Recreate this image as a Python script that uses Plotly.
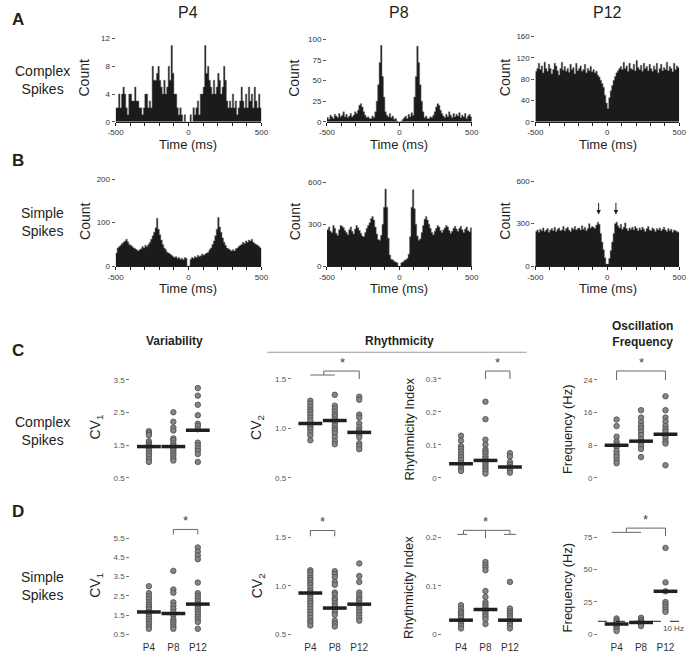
import plotly.graph_objects as go

W, H = 695, 661
FONT = "Arial, Liberation Sans, Helvetica, sans-serif"
INK = "#231f20"

# ---------------- DATA ----------------
bin_edges = list(range(-500, 501, 10))  # 10 ms bins, edges -500 .. 500

cs_p4 = [2,2,4,2,4,5,4,2,1,4,
         4,3,3,5,3,3,2,2,1,2,
         4,4,2,3,2,8,6,6,7,8,
         6,5,4,6,4,5,8,6,11,7,
         4,4,2,1,2,1,0,1,0,0,
         0,1,0,2,1,2,3,1,4,4,
         5,11,7,8,6,5,4,6,4,5,
         7,6,4,5,8,6,3,2,3,2,
         4,2,3,1,2,3,5,3,2,4,
         2,5,3,4,2,5,3,2,4,2]
cs_p8 = [5,3,8,6,4,9,7,5,10,6,
         8,12,6,9,5,7,10,6,8,12,
         10,14,20,22,18,12,8,5,6,4,
         4,7,5,12,25,45,72,93,55,30,
         12,8,6,10,5,7,3,4,1,0,
         0,1,3,5,7,4,9,6,11,8,
         30,55,92,72,45,25,12,5,7,4,
         4,6,5,8,12,18,22,20,14,10,
         7,5,9,6,12,8,5,10,6,9,
         7,11,5,8,6,10,4,7,9,6]
cs_p12 = [95,100,110,98,105,92,112,100,95,108,
          100,90,98,110,105,96,88,100,112,97,
          104,95,100,93,108,98,102,90,110,96,
          100,105,95,98,108,92,100,96,104,94,
          98,92,95,88,84,78,72,65,50,35,
          25,45,58,68,78,85,92,96,100,104,
          98,112,100,105,95,110,100,98,108,96,
          115,102,98,106,95,110,100,104,96,108,
          100,95,105,98,110,92,100,108,96,102,
          98,112,96,104,100,94,110,98,105,102]
ss_p4 = [30,42,45,48,52,55,58,62,56,50,
         48,45,42,40,38,35,38,40,45,42,
         48,45,50,55,62,70,78,88,110,85,
         72,60,50,42,38,32,30,28,25,22,
         20,22,18,20,16,18,15,20,18,0,
         0,16,20,18,22,20,25,22,24,28,
         25,28,30,32,38,42,50,58,70,85,
         112,90,78,65,55,48,42,40,38,35,
         38,35,40,42,45,48,50,55,52,58,
         55,60,58,62,55,52,50,48,45,42]
ss_p8 = [260,280,250,240,290,270,235,220,260,290,
         285,275,255,240,225,260,280,250,230,265,
         290,275,255,235,215,210,240,270,290,310,
         340,355,330,280,230,190,185,220,300,420,
         550,420,200,80,50,45,35,30,25,0,
         0,25,30,40,45,55,85,210,420,545,
         410,300,215,185,195,240,290,335,355,330,
         300,270,240,225,250,270,290,280,255,240,
         260,275,290,280,255,235,250,270,285,265,
         250,270,285,260,240,265,280,255,245,275]
ss_p12 = [245,255,240,260,250,270,245,255,265,240,
          255,265,250,275,245,260,270,250,255,280,
          250,265,275,255,245,270,260,280,255,265,
          270,255,285,260,275,250,265,300,270,280,
          275,265,290,310,295,230,170,115,60,15,
          15,55,110,170,230,300,310,285,270,295,
          260,275,305,265,250,270,260,275,255,280,
          265,250,270,255,275,260,245,265,280,255,
          250,270,260,245,265,255,270,250,260,275,
          255,245,265,250,260,240,255,250,245,240]

groups = ["P4", "P8", "P12"]
group_pos = [1, 2, 3]

cs_cv1_p4 = [1.93,1.87,1.81,1.62,1.55,1.50,1.45,1.40,1.33,1.25,1.17,1.07,0.99]
cs_cv1_p8 = [2.51,2.22,2.04,1.95,1.71,1.65,1.56,1.48,1.40,1.33,1.25,1.18,1.10,1.03]
cs_cv1_p12 = [3.25,3.02,2.74,2.42,2.16,2.09,1.99,1.58,1.50,1.41,1.33,1.23,0.99]
cs_cv1_mean = [1.46,1.46,1.96]

cs_cv2_p4 = [1.28,1.25,1.22,1.19,1.17,1.14,1.11,1.08,1.03,1.01,0.99,0.96,0.93,0.88]
cs_cv2_p8 = [1.34,1.23,1.20,1.17,1.14,1.12,1.09,1.06,1.03,1.00,0.98,0.95,0.91,0.87,0.84]
cs_cv2_p12 = [1.32,1.29,1.14,1.11,1.05,1.01,0.98,0.96,0.94,0.91,0.85,0.82,0.79]
cs_cv2_mean = [1.05,1.08,0.96]

cs_ri_p4 = [0.128,0.113,0.096,0.088,0.080,0.071,0.063,0.055,0.046,0.038,0.028,0.021]
cs_ri_p8 = [0.231,0.178,0.116,0.101,0.086,0.080,0.073,0.065,0.058,0.050,0.043,0.035,0.028,0.021,0.013]
cs_ri_p12 = [0.075,0.065,0.048,0.040,0.033,0.025,0.016]
cs_ri_mean = [0.043,0.053,0.033]

cs_freq_p4 = [14.3,12.7,10.1,8.9,8.2,7.6,6.6,5.8,5.1,4.3,3.6]
cs_freq_p8 = [16.6,14.8,13.7,12.7,12.1,11.3,10.5,9.5,8.8,8.0,7.1,5.1]
cs_freq_p12 = [20.0,16.6,14.8,13.8,12.7,11.9,11.3,10.3,9.7,8.9,8.4,3.1]
cs_freq_mean = [8.0,9.0,10.7]

ss_cv1_p4 = [3.00,2.64,2.47,2.33,2.16,2.03,1.91,1.79,1.66,1.53,1.41,1.29,1.16,1.04,0.90,0.78]
ss_cv1_p8 = [3.80,2.83,2.66,2.16,1.99,1.83,1.66,1.50,1.27,1.16,1.04,0.90,0.78]
ss_cv1_p12 = [5.02,4.81,4.60,4.41,3.19,2.64,2.50,2.37,2.23,2.07,1.95,1.82,1.68,1.55,1.41,1.27,1.14,0.78]
ss_cv1_mean = [1.66,1.58,2.07]

ss_cv2_p4 = [1.16,1.14,1.11,1.08,1.06,1.03,1.01,0.98,0.95,0.93,0.90,0.87,0.84,0.82,0.79,0.76,0.73,0.70,0.67,0.64,0.62,0.59]
ss_cv2_p8 = [1.15,1.12,1.09,1.04,1.01,0.93,0.91,0.87,0.85,0.82,0.79,0.76,0.73,0.70,0.64,0.61,0.58]
ss_cv2_p12 = [1.23,1.10,1.04,0.93,0.90,0.87,0.85,0.82,0.79,0.76,0.73,0.70,0.67,0.64]
ss_cv2_mean = [0.925,0.77,0.81]

ss_ri_p4 = [0.060,0.053,0.047,0.043,0.038,0.034,0.028,0.023,0.018,0.012]
ss_ri_p8 = [0.149,0.143,0.138,0.132,0.089,0.077,0.066,0.061,0.056,0.051,0.046,0.041,0.036,0.031,0.021]
ss_ri_p12 = [0.108,0.053,0.047,0.043,0.038,0.033,0.027,0.022,0.018,0.012]
ss_ri_mean = [0.029,0.051,0.029]

ss_freq_p4 = [12.2,10.4,8.9,7.1,5.8,4.1,2.5]
ss_freq_p8 = [12.7,10.9,9.6,7.9,6.3]
ss_freq_p12 = [66.8,40.1,33.2,24.9,23.1,21.1,19.0,17.3]
ss_freq_mean = [7.9,9.1,33.2]

# ---------------- HELPERS ----------------
def ax_x(v_lo, p_lo, v_hi, p_hi, p_left, p_right):
    s = (p_hi - p_lo) / (v_hi - v_lo)
    return [p_left / W, p_right / W], [v_lo - (p_lo - p_left) / s, v_lo + (p_right - p_lo) / s]

def ax_y(v_lo, p_lo, v_hi, p_hi, p_top, p_bot):
    s = (p_lo - p_hi) / (v_hi - v_lo)
    return [1 - p_bot / H, 1 - p_top / H], [v_lo - (p_bot - p_lo) / s, v_lo + (p_lo - p_top) / s]

fig = go.Figure()
layout = dict(width=W, height=H, margin=dict(l=0, r=0, t=0, b=0),
              paper_bgcolor="white", plot_bgcolor="rgba(0,0,0,0)",
              showlegend=False, font=dict(family=FONT, color=INK))
annotations = []
shapes = []

def ids(i):
    return ("x" if i == 1 else f"x{i}"), ("y" if i == 1 else f"y{i}")

def set_axes(i, xd, xr, yd, yr, xkw, ykw):
    xid, yid = ids(i)
    layout["xaxis" if i == 1 else f"xaxis{i}"] = dict(domain=xd, range=xr, anchor=yid,
        showgrid=False, zeroline=False, fixedrange=True, **xkw)
    layout["yaxis" if i == 1 else f"yaxis{i}"] = dict(domain=yd, range=yr, anchor=xid,
        showgrid=False, zeroline=False, fixedrange=True, **ykw)

def txt(x, y, s, size, angle=0, color=INK, xanchor="center", yanchor="middle"):
    annotations.append(dict(x=x / W, y=1 - y / H, xref="paper", yref="paper", text=s,
                            showarrow=False, textangle=angle, xanchor=xanchor, yanchor=yanchor,
                            font=dict(size=size, family=FONT, color=color)))

# ---------------- HISTOGRAMS ----------------
hist_specs = [
    (1, cs_p4, 110, 259, 121, 12, 37, 34, [0, 4, 8, 12]),
    (2, cs_p8, 326, 474, 121, 100, 38, 34, [0, 25, 50, 75, 100]),
    (3, cs_p12, 539, 686, 121, 160, 35, 33, [0, 40, 80, 120, 160]),
    (4, ss_p4, 110, 259, 267, 200, 179, 176, [0, 100, 200]),
    (5, ss_p8, 326, 474, 267, 600, 182, 176, [0, 300, 600]),
    (6, ss_p12, 539, 686, 267, 600, 181, 176, [0, 300, 600]),
]
xt_vals = list(range(-500, 501, 100))
xt_text = ["-500" if v == -500 else "0" if v == 0 else "500" if v == 500 else "" for v in xt_vals]
for (i, data, xl, xr_, y0, yv, yp, ptop, yt) in hist_specs:
    xd, xr = ax_x(-500, xl, 500, xr_, xl, xr_)
    yd, yr = ax_y(0, y0, yv, yp, ptop, y0)
    xid, yid = ids(i)
    # step outline: each bin value held from its left edge; final edge closes the last bin
    fig.add_trace(go.Scatter(x=bin_edges, y=data + data[-1:], mode="lines", line_shape="hv",
                             fill="tozeroy", fillcolor="#1c1a1b",
                             line=dict(color="#6a6a6a", width=0.5),
                             xaxis=xid, yaxis=yid, hoverinfo="skip"))
    set_axes(i, xd, xr, yd, yr,
             dict(showline=True, linecolor=INK, linewidth=1, ticks="outside", ticklen=3,
                  tickcolor=INK, tickwidth=1, tickvals=xt_vals, ticktext=xt_text,
                  tickfont=dict(size=8, color="#333")),
             dict(showline=False, ticks="outside", ticklen=3, tickcolor="#555", tickwidth=1,
                  tickvals=yt, tickfont=dict(size=8, color="#333")))

for x, s in [(184, "P4"), (400, "P8"), (613, "P12")]:
    txt(x, 11, s, 16)
for x in [184, 400, 613]:
    txt(x, 144, "Time (ms)", 13)
    txt(x, 290, "Time (ms)", 13)
for x in [78, 293, 508]:
    txt(x, 77, "Count", 14, angle=-90)
    txt(x, 222, "Count", 14, angle=-90)

for xv in [-60, 60]:
    annotations.append(dict(x=xv, y=365, xref="x6", yref="y6", ax=0, ay=-13, text="",
                            showarrow=True, arrowhead=2, arrowsize=0.9, arrowwidth=1,
                            arrowcolor=INK))

# ---------------- DOT PLOTS ----------------
dot_specs = [
    (7, [cs_cv1_p4, cs_cv1_p8, cs_cv1_p12], cs_cv1_mean, 144, 0.5, 481, 3.5, 382, 355, 486,
     [0.5, 1.5, 2.5, 3.5], ["0.5", "1.5", "2.5", "3.5"], False),
    (8, [cs_cv2_p4, cs_cv2_p8, cs_cv2_p12], cs_cv2_mean, 309, 0.5, 481, 1.5, 381, 355, 486,
     [0.5, 1.0, 1.5], ["0.5", "1.0", "1.5"], False),
    (9, [cs_ri_p4, cs_ri_p8, cs_ri_p12], cs_ri_mean, 463, 0, 481, 0.3, 381, 355, 486,
     [0, 0.1, 0.2, 0.3], ["0", "0.1", "0.2", "0.3"], False),
    (10, [cs_freq_p4, cs_freq_p8, cs_freq_p12], cs_freq_mean, 622, 0, 481, 24, 382, 355, 486,
     [0, 8, 16, 24], ["0", "8", "16", "24"], False),
    (11, [ss_cv1_p4, ss_cv1_p8, ss_cv1_p12], ss_cv1_mean, 144, 0.5, 639, 5.5, 542, 515, 645,
     [0.5, 1.5, 2.5, 3.5, 4.5, 5.5], ["0.5", "1.5", "2.5", "3.5", "4.5", "5.5"], True),
    (12, [ss_cv2_p4, ss_cv2_p8, ss_cv2_p12], ss_cv2_mean, 309, 0.5, 639, 1.5, 541, 515, 645,
     [0.5, 1.0, 1.5], ["0.5", "1.0", "1.5"], True),
    (13, [ss_ri_p4, ss_ri_p8, ss_ri_p12], ss_ri_mean, 463, 0, 639, 0.2, 541, 515, 645,
     [0, 0.1, 0.2], ["0", "0.1", "0.2"], True),
    (14, [ss_freq_p4, ss_freq_p8, ss_freq_p12], ss_freq_mean, 622, 0, 639, 75, 541, 515, 645,
     [0, 25, 50, 75], ["0", "25", "50", "75"], True),
]
for (i, series, means, c1, ylo, plo, yhi, phi, ptop, pbot, yt, ytt, showcats) in dot_specs:
    xd, xr = ax_x(1, c1, 3, c1 + 50, c1 - 19, c1 + 50 + 19)
    yd, yr = ax_y(ylo, plo, yhi, phi, ptop, pbot)
    xid, yid = ids(i)
    for g, vals in zip(group_pos, series):
        fig.add_trace(go.Scatter(x=[g] * len(vals), y=vals, mode="markers", xaxis=xid, yaxis=yid,
                                 cliponaxis=False,
                                 marker=dict(size=5.5, color="#858585",
                                             line=dict(color="#4a4a4a", width=0.8))))
    fig.add_trace(go.Scatter(x=group_pos, y=means, mode="markers", xaxis=xid, yaxis=yid,
                             cliponaxis=False,
                             marker=dict(symbol="line-ew", size=17, color=INK,
                                         line=dict(color=INK, width=3.5))))
    set_axes(i, xd, xr, yd, yr,
             dict(showline=False, ticks="", tickvals=group_pos, ticktext=groups,
                  showticklabels=showcats, tickfont=dict(size=10, color="#333")),
             dict(showline=False, ticks="outside", ticklen=3, tickcolor="#777", tickwidth=1,
                  tickvals=yt, ticktext=ytt, tickfont=dict(size=8, color="#555")))

BR = "#666666"
brackets = {
    8: [(1.0, 1.54, 2.0, 1.54), (1.55, 1.54, 1.55, 1.58), (1.55, 1.58, 3.0, 1.58), (3.0, 1.58, 3.0, 1.50)],
    9: [(2.0, 0.30, 2.0, 0.324), (2.0, 0.324, 3.0, 0.324), (3.0, 0.324, 3.0, 0.30)],
    10: [(1.0, 24.0, 1.0, 26.2), (1.0, 26.2, 3.0, 26.2), (3.0, 26.2, 3.0, 24.0)],
    11: [(2.0, 5.70, 2.0, 5.96), (2.0, 5.96, 3.0, 5.96), (3.0, 5.96, 3.0, 5.70)],
    12: [(1.0, 1.51, 1.0, 1.57), (1.0, 1.57, 2.0, 1.57), (2.0, 1.57, 2.0, 1.51)],
    13: [(0.85, 0.206, 1.25, 0.206), (1.1, 0.206, 1.1, 0.2143), (1.1, 0.2143, 3.0, 0.2143),
         (3.0, 0.2143, 3.0, 0.206), (2.75, 0.206, 3.25, 0.206), (2.0, 0.2143, 2.0, 0.198)],
    14: [(0.8, 78.8, 2.0, 78.8), (1.4, 78.8, 1.4, 82.1), (1.4, 82.1, 3.0, 82.1), (3.0, 82.1, 3.0, 75.8)],
}
stars = {8: (2.3, 1.58), 9: (2.5, 0.324), 10: (2.0, 26.2), 11: (2.5, 5.96),
         12: (1.5, 1.57), 13: (2.0, 0.2143), 14: (2.2, 82.1)}
for i, segs in brackets.items():
    xid, yid = ids(i)
    for (x0, y0, x1, y1) in segs:
        shapes.append(dict(type="line", xref=xid, yref=yid, x0=x0, y0=y0, x1=x1, y1=y1,
                           line=dict(color=BR, width=1)))
for i, (sx, sy) in stars.items():
    xid, yid = ids(i)
    annotations.append(dict(x=sx, y=sy, xref=xid, yref=yid, text="*", showarrow=False,
                            yanchor="bottom", yshift=-1, font=dict(size=13, color="#444", family=FONT)))

shapes.append(dict(type="line", xref="paper", yref="y14", x0=603 / W, x1=692 / W, y0=10, y1=10,
                   line=dict(color=INK, width=1, dash="dash")))
annotations.append(dict(x=693 / W, y=10, xref="paper", yref="y14", text="10 Hz", showarrow=False,
                        xanchor="right", yanchor="top", yshift=-1,
                        font=dict(size=8, color="#444", family=FONT)))

txt(170, 343, "<b>Variability</b>", 12)
txt(400, 343, "<b>Rhythmicity</b>", 12)
txt(648, 336, "<b>Oscillation<br>Frequency</b>", 12)
shapes.append(dict(type="line", xref="paper", yref="paper", x0=265 / W, x1=530 / W,
                   y0=1 - 354 / H, y1=1 - 354 / H, line=dict(color="#999", width=1)))

for y in [430, 590]:
    txt(90, y, "CV<sub>1</sub>", 14, angle=-90)
    txt(255, y, "CV<sub>2</sub>", 14, angle=-90)
    txt(410, y + 2, "Rhythmicity Index", 13, angle=-90)
    txt(572, y + 2, "Frequency (Hz)", 13, angle=-90)

txt(35, 79, "Complex<br>Spikes", 14)
txt(35, 222, "Simple<br>Spikes", 14)
txt(35, 434, "Complex<br>Spikes", 14)
txt(35, 590, "Simple<br>Spikes", 14)
for y, s in [(18, "A"), (160, "B"), (352, "C"), (515, "D")]:
    txt(2, y, f"<b>{s}</b>", 17, xanchor="left")

layout["annotations"] = annotations
layout["shapes"] = shapes
fig.update_layout(**layout)
fig.write_html("out.html", config={"displayModeBar": False},
               post_script="document.body.style.margin='0';document.body.style.overflow='hidden';")
